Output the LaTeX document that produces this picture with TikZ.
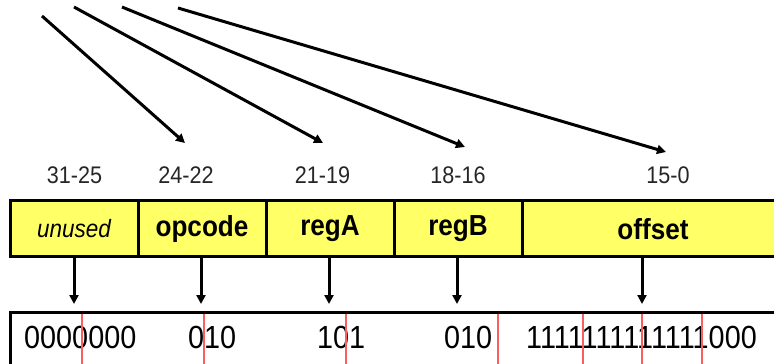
\documentclass[tikz,border=0pt]{standalone}
\usepackage{fontspec}
\setmainfont{Liberation Sans}[FakeStretch=0.9]
\usetikzlibrary{arrows.meta}
\definecolor{fieldyellow}{RGB}{255,255,102}
\definecolor{bitred}{RGB}{250,95,95}
\tikzset{
  field/.style={draw=black, line width=3pt, fill=fieldyellow, minimum height=56pt,
    inner sep=0pt, anchor=center, font=\fontsize{29}{30}\selectfont\bfseries},
  bitlabel/.style={font=\fontsize{24}{26}\selectfont, text=black!85, inner sep=0pt, anchor=base},
  bits/.style={font=\fontsize{32}{34}\selectfont, inner sep=0pt, anchor=base west},
  conn/.style={line width=3pt, -{Triangle[length=9pt,width=9pt]}},
  redline/.style={draw=bitred, line width=1.2pt},
  wordbox/.style={draw=black, line width=3pt, inner sep=0pt},
}
\begin{document}
\begin{tikzpicture}[x=1pt,y=-1pt]
\useasboundingbox (0,0) rectangle (774,364);
\begin{scope}
\clip (0,0) rectangle (774,364);

% instruction fields
\node[field, minimum width=128pt] (unused) at (74,228.75) {\mdseries\itshape\fontsize{25}{26}\selectfont unused};
\node[field, minimum width=128pt] (opcode) at (202,228.75) {opcode};
\node[field, minimum width=128pt] (regA) at (330,228.75) {regA};
\node[field, minimum width=128pt] (regB) at (458,228.75) {regB};
\node[field, minimum width=262pt] (offset) at (653,228.75) {offset};

% bit ranges
\node[bitlabel] (b1) at (74.5,183) {31-25};
\node[bitlabel] (b2) at (186,183) {24-22};
\node[bitlabel] (b3) at (322.5,183) {21-19};
\node[bitlabel] (b4) at (458,183) {18-16};
\node[bitlabel] (b5) at (668,183) {15-0};

% top arrows
\coordinate (s1) at (42,16);  \coordinate (e1) at (185,143);
\coordinate (s2) at (74,7);   \coordinate (e2) at (323,143);
\coordinate (s3) at (122,7);  \coordinate (e3) at (465,147);
\coordinate (s4) at (178,8);  \coordinate (e4) at (666,152);
\draw[conn] (s1) -- (e1);
\draw[conn] (s2) -- (e2);
\draw[conn] (s3) -- (e3);
\draw[conn] (s4) -- (e4);

% binary word box
\node[wordbox, minimum width=800pt, minimum height=120pt] (word) at (410.5,372) {};

% stems
\coordinate (t1) at (74,304);
\coordinate (t2) at (201,304);
\coordinate (t3) at (329,304);
\coordinate (t4) at (457,304);
\coordinate (t5) at (642,304);
\draw[conn] (unused.south -| t1) -- (t1);
\draw[conn] (opcode.south -| t2) -- (t2);
\draw[conn] (regA.south -| t3) -- (t3);
\draw[conn] (regB.south -| t4) -- (t4);
\draw[conn] (offset.south -| t5) -- (t5);

% bits
\node[bits] (v1) at (24,348) {0000000};
\node[bits] (v2) at (188,348) {010};
\node[bits] (v3) at (317,348) {101};
\node[bits] (v4) at (444,348) {010};
\node[bits] (v5) at (526,348) {1111111111111000};

% bit boundaries
\foreach \x in {82,204,346,498,583,642,702}
  \draw[redline] (\x,313.5) -- (\x,370);
\end{scope}
\end{tikzpicture}
\end{document}
